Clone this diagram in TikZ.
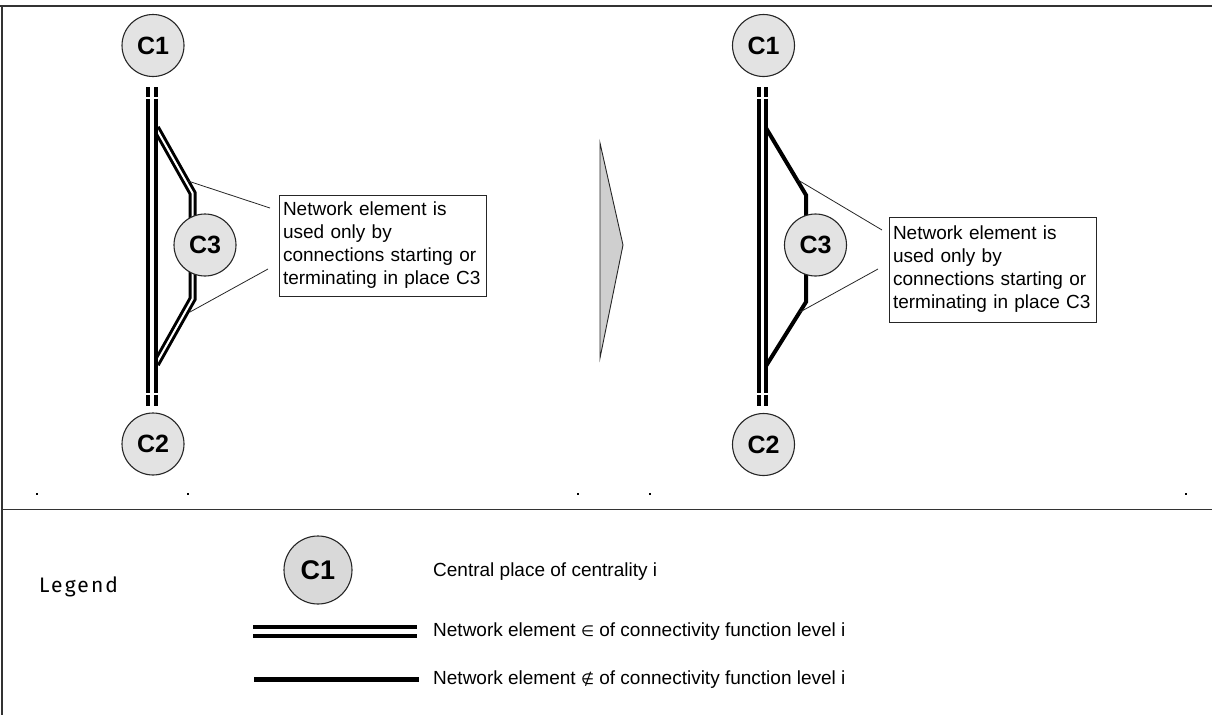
\documentclass[tikz,border=0pt]{standalone}
\usepackage{fontspec}
\setmainfont{Liberation Sans}
\newfontfamily\legendfont[LetterSpace=10]{Fira Sans}
\newfontfamily\symfont{DejaVu Sans}
\begin{document}
\begin{tikzpicture}[x=1pt,y=-1pt,
  frame/.style={draw=black!80, line width=1.5pt},
  place/.style={circle, draw=black!85, line width=1.1pt, fill=gray!22,
    minimum size=62pt, inner sep=0pt, font=\fontsize{25}{25}\selectfont\bfseries},
  legplace/.style={place, fill=gray!30, minimum size=68pt, font=\fontsize{27}{27}\selectfont\bfseries},
  member/.style={draw=black, line width=4pt, double=white, double distance=3.5pt},
  memberbranch/.style={draw=black, line width=3pt, double=white, double distance=2pt, line join=miter},
  other/.style={draw=black, line width=4pt, line join=miter},
  callout/.style={draw=black!85, line width=0.8pt},
  note/.style={draw=black!85, line width=0.9pt, align=left, text width=199pt,
    inner xsep=4pt, inner ysep=0pt, font=\fontsize{19}{23}\selectfont},
  legtext/.style={anchor=west, inner sep=0pt, font=\fontsize{19}{23}\selectfont},
  speck/.style={fill=black}
]
\useasboundingbox (0,0) rectangle (1212,715);

% outer frame and separator of the legend
\draw[frame] (0,6) -- (1212,6);
\draw[frame] (2,6) -- (2,715);
\draw[frame] (2,509.5) -- (1212,509.5);

% ---------- left panel: bypass used by level-i connections ----------
\coordinate (a0) at (152,87);
\coordinate (a1) at (152,406);
\coordinate (ab0) at (156,128);
\coordinate (ab1) at (192.5,193);
\coordinate (ab2) at (192.5,299);
\coordinate (ab3) at (156,364);
\draw[memberbranch] (ab0) -- (ab1) -- (ab2) -- (ab3);
\draw[member, dash pattern=on 10pt off 1.5pt on 294.5pt off 1.5pt on 30pt] (a0) -- (a1);

\node[place] (C1a) at (153,45.5) {C1};
\node[place] (C2a) at (153,444) {C2};
\node[place] (C3a) at (205,245) {C3};

\node[note, minimum height=101pt] (noteA) at (382.5,245.5)
  {Network element is\\used only by\\connections starting or\\terminating in place C3};
\coordinate (ca0) at (188,181);
\coordinate (ca1) at (270,208);
\coordinate (ca2) at (190,312);
\coordinate (ca3) at (268,269);
\draw[callout] (ca0) -- (ca1);
\draw[callout] (ca2) -- (ca3);

% transition arrow
\draw[draw=black!85, line width=0.9pt, fill=gray!38, line join=miter]
  (600,143) -- (623,245) -- (600,358) -- cycle;

% ---------- right panel: bypass downgraded ----------
\coordinate (b0) at (762.5,87);
\coordinate (b1) at (762.5,406);
\coordinate (bb0) at (766,128);
\coordinate (bb1) at (806,195);
\coordinate (bb2) at (806,302);
\coordinate (bb3) at (766,366);
\draw[other] (bb0) -- (bb1) -- (bb2) -- (bb3);
\draw[member, dash pattern=on 10pt off 1.5pt on 294.5pt off 1.5pt on 30pt] (b0) -- (b1);

\node[place] (C1b) at (763.5,45.5) {C1};
\node[place] (C2b) at (763.5,444.5) {C2};
\node[place] (C3b) at (815.5,245) {C3};

\node[note, minimum height=105pt] (noteB) at (992.5,269.5)
  {Network element is\\used only by\\connections starting or\\terminating in place C3};
\coordinate (cb0) at (798,180);
\coordinate (cb1) at (882,230);
\coordinate (cb2) at (800,312);
\coordinate (cb3) at (878,269);
\draw[callout] (cb0) -- (cb1);
\draw[callout] (cb2) -- (cb3);

% small specks along the lower edge of the upper area
\foreach \sx in {37,188,578,650,1186}
  \fill[speck] (\sx-1,493) rectangle (\sx+1,495);

% ---------- legend ----------
\node[anchor=west, inner sep=0pt, font=\legendfont\fontsize{21}{21}\selectfont] (legtitle) at (39,587) {Legend};

\node[legplace] (LC) at (318,570) {C1};
\node[legtext] (L1) at (433,572) {Central place of centrality i};

\coordinate (ld0) at (253,631.5);
\coordinate (ld1) at (417,631.5);
\draw[draw=black, line width=4pt, double=white, double distance=5pt] (ld0) -- (ld1);
\node[legtext] (L2) at (433,632) {Network element {\symfont\fontsize{15}{15}\selectfont ∈} of connectivity function level i};

\coordinate (ls0) at (254,679.5);
\coordinate (ls1) at (419,679.5);
\draw[draw=black, line width=5pt] (ls0) -- (ls1);
\node[legtext] (L3) at (433,680) {Network element {\symfont\fontsize{15}{15}\selectfont ∉} of connectivity function level i};
\end{tikzpicture}
\end{document}
